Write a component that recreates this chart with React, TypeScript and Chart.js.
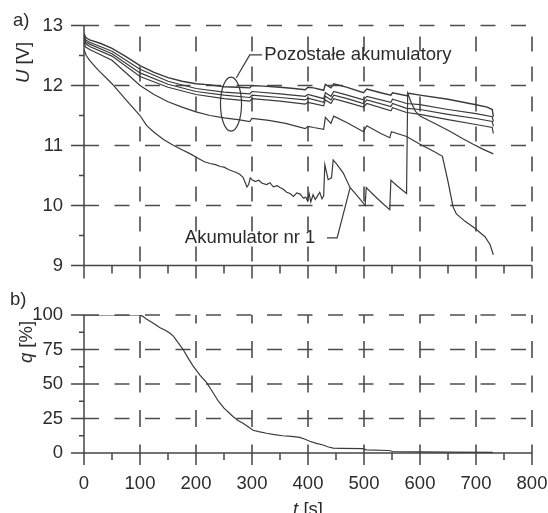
import { useEffect, useRef } from 'react';
import { Chart, registerables } from 'chart.js';
import type { Plugin } from 'chart.js';

Chart.register(...registerables);

type Pt = [number, number];

// Axis ticks
const timeTicks = [0, 100, 200, 300, 400, 500, 600, 700, 800];
const voltageTicks = [9, 10, 11, 12, 13];
const chargeTicks = [0, 25, 50, 75, 100];

// Terminal voltage U [V] of the remaining batteries, as (t [s], U [V])
const restA: Pt[] = [
  [0, 12.87], [3, 12.8], [10, 12.76], [30, 12.7], [50, 12.62], [75, 12.48], [100, 12.33], [125, 12.22],
  [150, 12.13], [175, 12.07], [200, 12.03], [225, 12.01], [250, 11.98], [275, 11.97], [296, 11.96],
  [300, 12.0], [320, 11.99], [350, 11.97], [375, 11.95], [395, 11.93], [400, 11.97], [410, 11.96],
  [428, 11.92], [431, 12.02], [441, 11.96], [446, 12.03], [470, 11.97], [499, 11.88], [505, 11.94],
  [530, 11.88], [548, 11.84], [551, 11.88], [576, 11.83], [580, 11.87], [600, 11.84], [650, 11.77],
  [700, 11.68], [720, 11.64], [729, 11.6], [731, 11.48],
];
const restB: Pt[] = [
  [0, 12.83], [3, 12.76], [10, 12.72], [50, 12.57], [100, 12.27], [150, 12.07], [200, 11.95],
  [250, 11.89], [296, 11.86], [300, 11.9], [350, 11.86], [395, 11.82], [400, 11.85], [428, 11.78],
  [431, 11.88], [441, 11.82], [446, 11.9], [470, 11.84], [499, 11.76], [505, 11.82], [548, 11.72],
  [551, 11.77], [576, 11.7], [600, 11.68], [650, 11.6], [700, 11.53], [729, 11.48], [731, 11.4],
];
const restC: Pt[] = [
  [0, 12.8], [3, 12.73], [10, 12.69], [50, 12.53], [100, 12.21], [150, 12.02], [200, 11.9],
  [250, 11.84], [296, 11.8], [300, 11.84], [350, 11.8], [395, 11.76], [400, 11.79], [428, 11.72],
  [431, 11.82], [441, 11.76], [446, 11.84], [470, 11.78], [499, 11.7], [505, 11.76], [548, 11.65],
  [551, 11.7], [576, 11.62], [600, 11.6], [650, 11.52], [700, 11.45], [729, 11.4], [731, 11.32],
];
const restD: Pt[] = [
  [0, 12.77], [3, 12.7], [10, 12.65], [50, 12.49], [100, 12.15], [150, 11.97], [200, 11.85],
  [250, 11.78], [296, 11.74], [300, 11.78], [350, 11.74], [395, 11.69], [400, 11.72], [428, 11.66],
  [431, 11.76], [441, 11.7], [446, 11.78], [470, 11.72], [499, 11.64], [505, 11.7], [548, 11.58],
  [551, 11.63], [576, 11.55], [600, 11.52], [650, 11.43], [700, 11.35], [729, 11.3], [731, 11.2],
];
const restE: Pt[] = [
  [0, 12.72], [3, 12.64], [10, 12.6], [50, 12.42], [100, 12.0], [125, 11.85], [150, 11.73],
  [175, 11.64], [200, 11.56], [225, 11.5], [250, 11.46], [275, 11.43], [296, 11.4], [300, 11.45],
  [330, 11.42], [360, 11.37], [395, 11.28], [400, 11.32], [410, 11.3], [428, 11.27], [431, 11.47],
  [441, 11.37], [446, 11.49], [470, 11.38], [499, 11.23], [505, 11.33], [530, 11.2], [546, 11.13],
  [549, 11.23], [576, 11.15], [600, 11.02], [625, 10.9], [640, 10.82], [650, 10.4], [659, 9.98],
  [665, 9.86], [680, 9.74], [698, 9.62], [716, 9.48], [725, 9.35], [731, 9.18],
];
// Akumulator nr 1
const cell1: Pt[] = [
  [0, 12.6], [4, 12.5], [10, 12.42], [25, 12.26], [50, 12.03], [75, 11.76], [100, 11.5], [112, 11.33],
  [125, 11.22], [142, 11.1], [160, 11.0], [175, 10.93], [190, 10.86], [201, 10.8], [215, 10.73],
  [225, 10.7], [235, 10.68], [243, 10.65], [250, 10.64], [258, 10.6], [266, 10.57], [272, 10.55],
  [278, 10.52], [284, 10.47], [288, 10.38], [291, 10.31], [294, 10.35], [297, 10.46], [300, 10.43],
  [306, 10.4], [312, 10.42], [318, 10.37], [326, 10.35], [332, 10.38], [338, 10.31], [345, 10.33],
  [350, 10.3], [356, 10.27], [362, 10.22], [368, 10.2], [374, 10.15], [380, 10.21], [386, 10.19],
  [392, 10.12], [396, 10.14], [399, 10.08], [402, 10.2], [405, 10.06], [409, 10.18], [413, 10.1],
  [417, 10.16], [421, 10.22], [425, 10.11], [428, 10.16], [430, 10.68], [436, 10.43], [442, 10.46],
  [445, 10.76], [452, 10.68], [463, 10.54], [475, 10.3], [490, 10.14], [502, 10.0], [504, 10.3],
  [520, 10.15], [535, 10.02], [546, 9.93], [548, 10.42], [560, 10.32], [576, 10.2], [578, 11.87],
  [585, 11.7], [592, 11.57], [600, 11.49], [630, 11.35], [655, 11.23], [675, 11.12], [695, 11.02],
  [712, 10.94], [731, 10.86],
];

// q [%] over time
const charge: Pt[] = [
  [0, 100], [100, 100], [105, 99], [110, 97.5], [118, 95.5], [128, 93], [135, 91], [145, 89],
  [153, 87], [160, 84.5], [168, 80], [177, 75], [187, 68], [195, 63], [207, 56.5], [219, 51],
  [230, 44], [240, 37.5], [250, 32.5], [258, 29.5], [266, 26.5], [275, 23.5], [284, 21.5],
  [293, 19], [302, 16.5], [312, 15.5], [326, 14.3], [340, 13.3], [355, 12.5], [370, 12],
  [385, 11.3], [395, 10], [403, 8.5], [415, 7], [427, 5.8], [435, 4.5], [445, 3.6], [460, 3.4],
  [498, 3.2], [504, 2.3], [545, 1.8], [551, 1.1], [600, 0.8], [650, 0.6], [730, 0.5],
];

const FONT = '"Liberation Sans", Arial, Helvetica, sans-serif';
const TEXT = '#2b2b2b';
const INK = '#3a3a3a';
const GRID = '#4d4d4d';
const AXIS = '#454545';
const FONT_SIZE = 18.5;

type FrameOpts = {
  xTicks: number[];
  yTicks: number[];
  xMajorLen: number;
  xMinorLen: number;
  vDash: number[];
  vOffset: number;
  hDash: number[];
  hOffset: number;
  annotate: (chart: Chart) => void;
};

const midpoints = (v: number[]) => v.slice(1).map((x, i) => (x + v[i]) / 2);

function framePlugin(o: FrameOpts): Plugin {
  return {
    id: 'frame',
    beforeDatasetsDraw(chart) {
      const { ctx, chartArea: a } = chart;
      const xs = chart.scales.x;
      const ys = chart.scales.y;
      ctx.save();
      ctx.lineCap = 'butt';
      ctx.strokeStyle = GRID;
      ctx.lineWidth = 1.6;
      ctx.setLineDash(o.vDash);
      ctx.lineDashOffset = o.vOffset;
      for (const t of o.xTicks) {
        if (t === xs.min) continue;
        const px = xs.getPixelForValue(t);
        ctx.beginPath();
        ctx.moveTo(px, a.top);
        ctx.lineTo(px, a.bottom);
        ctx.stroke();
      }
      ctx.setLineDash(o.hDash);
      ctx.lineDashOffset = o.hOffset;
      for (const v of o.yTicks) {
        if (v === ys.min) continue;
        const py = ys.getPixelForValue(v);
        ctx.beginPath();
        ctx.moveTo(a.left, py);
        ctx.lineTo(a.right, py);
        ctx.stroke();
      }
      ctx.setLineDash([]);
      ctx.strokeStyle = AXIS;
      ctx.lineWidth = 1.5;
      ctx.beginPath();
      ctx.moveTo(a.left, a.top);
      ctx.lineTo(a.left, a.bottom);
      ctx.lineTo(a.right, a.bottom);
      ctx.stroke();
      // tick marks
      ctx.beginPath();
      for (const t of o.xTicks) {
        const px = xs.getPixelForValue(t);
        ctx.moveTo(px, a.bottom);
        ctx.lineTo(px, a.bottom + o.xMajorLen);
      }
      for (const t of midpoints(o.xTicks)) {
        const px = xs.getPixelForValue(t);
        ctx.moveTo(px, a.bottom);
        ctx.lineTo(px, a.bottom + o.xMinorLen);
      }
      for (const v of o.yTicks) {
        const py = ys.getPixelForValue(v);
        ctx.moveTo(a.left - 13, py);
        ctx.lineTo(a.left, py);
      }
      for (const v of midpoints(o.yTicks)) {
        const py = ys.getPixelForValue(v);
        ctx.moveTo(a.left - 5, py);
        ctx.lineTo(a.left, py);
      }
      ctx.stroke();
      ctx.restore();
    },
    afterDraw(chart) {
      o.annotate(chart);
    },
  };
}

// Axis title with an italic symbol followed by the upright unit
function drawTitle(ctx: CanvasRenderingContext2D, sym: string, unit: string, x: number, y: number, rotated: boolean) {
  ctx.save();
  ctx.translate(x, y);
  if (rotated) ctx.rotate(-Math.PI / 2);
  ctx.fillStyle = TEXT;
  ctx.textAlign = 'left';
  ctx.textBaseline = rotated ? 'middle' : 'alphabetic';
  ctx.font = `italic ${FONT_SIZE}px ${FONT}`;
  const w1 = ctx.measureText(sym).width;
  ctx.font = `${FONT_SIZE}px ${FONT}`;
  const w2 = ctx.measureText(unit).width;
  const x0 = -(w1 + w2) / 2;
  ctx.font = `italic ${FONT_SIZE}px ${FONT}`;
  ctx.fillText(sym, x0, 0);
  ctx.font = `${FONT_SIZE}px ${FONT}`;
  ctx.fillText(unit, x0 + w1, 0);
  ctx.restore();
}

// Ring around the group of remaining batteries and the two callouts
const ringCentre: Pt = [262.5, 11.69];
const ringRadius: Pt = [18.8, 0.45];
const restLeader: Pt[] = [[272, 12.13], [296, 12.51], [318, 12.51]];
const restLabel: Pt = [322, 12.51];
const cell1Leader: Pt[] = [[434, 9.46], [452, 9.46], [475, 10.29]];
const cell1Label: Pt = [180, 9.46];

function annotateVoltage(chart: Chart) {
  const { ctx, chartArea: a } = chart;
  const xs = chart.scales.x;
  const ys = chart.scales.y;
  const px = (p: Pt) => [xs.getPixelForValue(p[0]), ys.getPixelForValue(p[1])];
  ctx.save();
  ctx.strokeStyle = INK;
  ctx.lineWidth = 1.2;
  const [cx, cy] = px(ringCentre);
  const rx = xs.getPixelForValue(ringCentre[0] + ringRadius[0]) - cx;
  const ry = cy - ys.getPixelForValue(ringCentre[1] + ringRadius[1]);
  ctx.beginPath();
  ctx.ellipse(cx, cy, rx, ry, 0, 0, Math.PI * 2);
  ctx.stroke();
  for (const path of [restLeader, cell1Leader]) {
    ctx.beginPath();
    path.forEach((p, i) => {
      const [x, y] = px(p);
      if (i === 0) ctx.moveTo(x, y);
      else ctx.lineTo(x, y);
    });
    ctx.stroke();
  }
  ctx.fillStyle = TEXT;
  ctx.font = `${FONT_SIZE}px ${FONT}`;
  ctx.textAlign = 'left';
  ctx.textBaseline = 'middle';
  const [lx, ly] = px(restLabel);
  ctx.fillText('Pozostałe akumulatory', lx, ly);
  const [kx, ky] = px(cell1Label);
  ctx.fillText('Akumulator nr 1', kx, ky);
  ctx.fillText('a)', a.left - 71, a.top - 5);
  drawTitle(ctx, 'U', ' [V]', a.left - 60, a.top + 37, true);
  ctx.restore();
}

function annotateCharge(chart: Chart) {
  const { ctx, chartArea: a } = chart;
  ctx.save();
  ctx.fillStyle = TEXT;
  ctx.font = `${FONT_SIZE}px ${FONT}`;
  ctx.textAlign = 'left';
  ctx.textBaseline = 'middle';
  ctx.fillText('b)', a.left - 74, a.top - 15);
  drawTitle(ctx, 'q', ' [%]', a.left - 57, a.top + 27, true);
  drawTitle(ctx, 't', ' [s]', (a.left + a.right) / 2, a.bottom + 62, false);
  ctx.restore();
}

const tickFont = { family: FONT, size: FONT_SIZE };

function baseOptions(yMin: number, yMax: number, yTicks: number[], top: number, xHeight: number, showX: boolean) {
  return {
    animation: false as const,
    responsive: false,
    maintainAspectRatio: false,
    devicePixelRatio: 1,
    layout: { autoPadding: false, padding: { left: 0, top, right: 16, bottom: 0 } },
    plugins: { legend: { display: false }, tooltip: { enabled: false } },
    elements: { point: { radius: 0 }, line: { tension: 0 } },
    scales: {
      x: {
        type: 'linear' as const,
        min: timeTicks[0],
        max: timeTicks[timeTicks.length - 1],
        afterBuildTicks: (s: any) => {
          s.ticks = timeTicks.map((value) => ({ value }));
        },
        afterFit: (s: any) => {
          s.height = xHeight;
        },
        // the grid itself is painted by the frame plugin; tickLength only spaces the labels
        grid: { display: false, drawTicks: true, tickLength: 20 },
        border: { display: false },
        ticks: { display: showX, padding: 0, color: TEXT, font: tickFont, maxRotation: 0, autoSkip: false },
      },
      y: {
        type: 'linear' as const,
        min: yMin,
        max: yMax,
        afterBuildTicks: (s: any) => {
          s.ticks = yTicks.map((value) => ({ value }));
        },
        afterFit: (s: any) => {
          s.width = 84;
        },
        grid: { display: false, drawTicks: true, tickLength: 21 },
        border: { display: false },
        ticks: { padding: 0, color: TEXT, font: tickFont, autoSkip: false },
      },
    },
  };
}

const toXY = (s: Pt[]) => s.map(([x, y]) => ({ x, y }));

export default function App() {
  const topRef = useRef<HTMLCanvasElement>(null);
  const bottomRef = useRef<HTMLCanvasElement>(null);

  useEffect(() => {
    const voltSeries = [restA, restB, restC, restD, restE, cell1];
    const top = new Chart(topRef.current!, {
      type: 'line',
      data: {
        datasets: voltSeries.map((s, i) => ({
          data: toXY(s),
          borderColor: INK,
          borderWidth: i === 0 ? 1.4 : 1.2,
          pointRadius: 0,
          fill: false,
        })),
      },
      options: baseOptions(voltageTicks[0], voltageTicks[voltageTicks.length - 1], voltageTicks, 25.5, 24.5, false) as any,
      plugins: [
        framePlugin({
          xTicks: timeTicks,
          yTicks: voltageTicks,
          xMajorLen: 13,
          xMinorLen: 8,
          vDash: [15, 15],
          vOffset: 19,
          hDash: [15, 15.5],
          hOffset: 0,
          annotate: annotateVoltage,
        }),
      ],
    });
    const bottom = new Chart(bottomRef.current!, {
      type: 'line',
      data: {
        datasets: [
          { data: toXY(charge), borderColor: INK, borderWidth: 1.2, pointRadius: 0, fill: false },
        ],
      },
      options: baseOptions(chargeTicks[0], chargeTicks[chargeTicks.length - 1], chargeTicks, 25, 60, true) as any,
      plugins: [
        framePlugin({
          xTicks: timeTicks,
          yTicks: chargeTicks,
          xMajorLen: 12,
          xMinorLen: 7,
          vDash: [17, 17.5],
          vOffset: 8.5,
          hDash: [15, 15.5],
          hOffset: 0,
          annotate: annotateCharge,
        }),
      ],
    });
    return () => {
      top.destroy();
      bottom.destroy();
    };
  }, []);

  return (
    <div style={{ position: 'fixed', left: 0, top: 0, width: 548, height: 513, background: '#fff', overflow: 'hidden' }}>
      <canvas ref={topRef} width={548} height={290} style={{ position: 'absolute', left: 0, top: 0, width: 548, height: 290 }} />
      <canvas ref={bottomRef} width={548} height={223} style={{ position: 'absolute', left: 0, top: 290, width: 548, height: 223 }} />
    </div>
  );
}
